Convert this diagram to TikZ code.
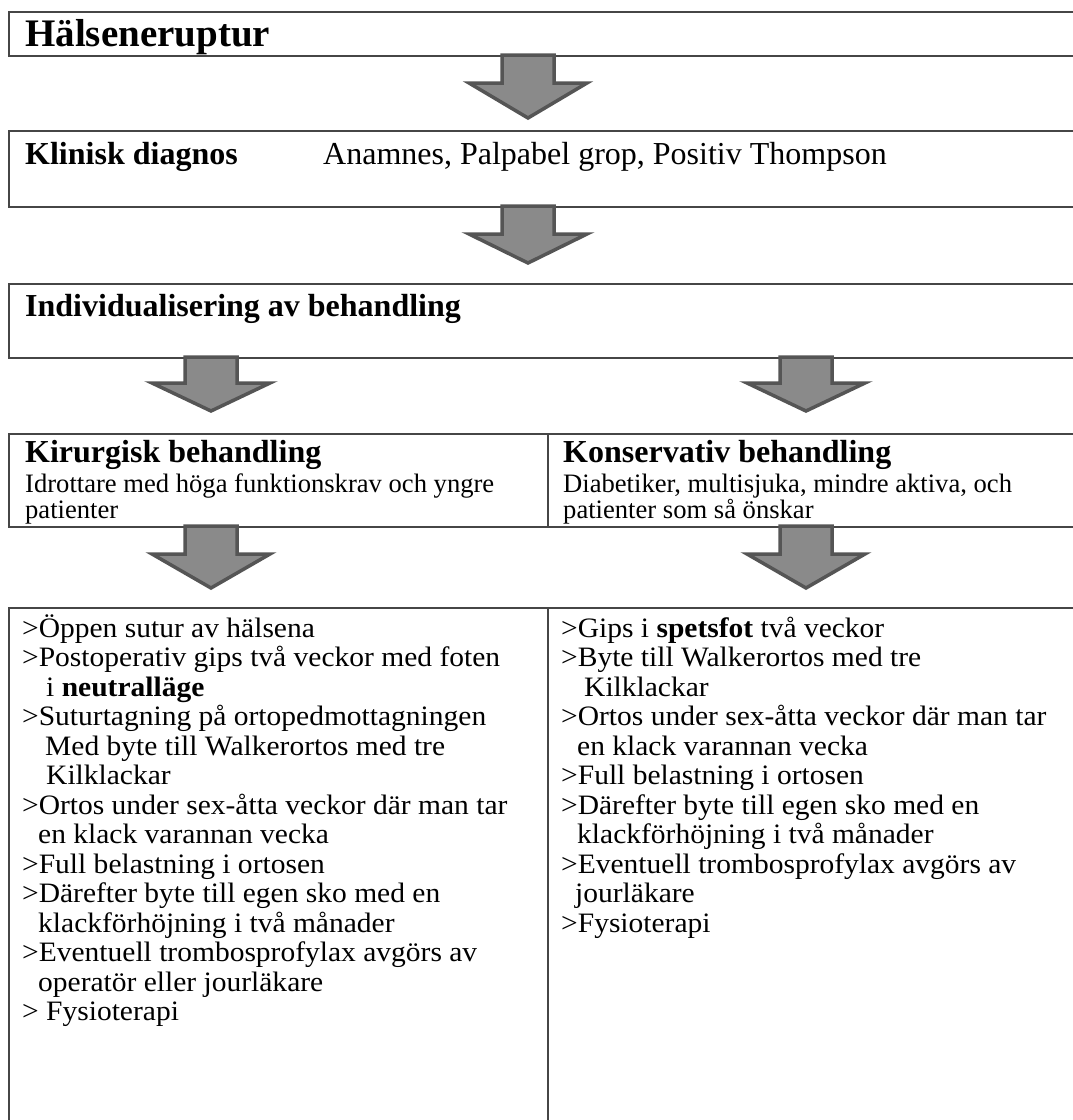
\documentclass[tikz,border=0pt]{standalone}
\usepackage{fontspec}
\setmainfont{Liberation Serif}
\newfontfamily\scanfont[FakeStretch=1.05]{Liberation Serif}
\usetikzlibrary{positioning}
\definecolor{rulegray}{RGB}{70,70,70}
\definecolor{arrowedge}{RGB}{85,85,85}
\definecolor{arrowbody}{RGB}{138,138,138}
\tikzset{
    panel/.style={rectangle, draw=rulegray, line width=1.8pt, anchor=north west, inner sep=0pt, minimum width=1100pt},
    title/.style={anchor=base west, inner sep=0pt, font=\fontsize{39}{44}\selectfont\bfseries},
    heading/.style={anchor=base west, inner sep=0pt, font=\fontsize{32}{36}\selectfont\bfseries},
    info/.style={anchor=base west, inner sep=0pt, font=\fontsize{32}{36}\selectfont},
    note/.style={anchor=base west, inner sep=0pt, font=\fontsize{26.6}{30}\selectfont},
    item/.style={anchor=base west, inner sep=0pt, font=\scanfont\fontsize{28.1}{29.5}\selectfont},
    bigarrow/.style={fill=arrowbody, draw=arrowedge, line width=3.5pt, line join=miter},
    pics/downarrow/.style n args={2}{code={
        \path[bigarrow] (-26,2) -- (26,2) -- (26,#1) -- (59,#1) -- (0,#2) -- (-59,#1) -- (-26,#1) -- cycle;
    }},
}

\begin{document}
\begin{tikzpicture}[x=1pt, y=-1pt]
    \useasboundingbox (0,0) rectangle (1073,1120);
    \clip (0,0) rectangle (1073,1120);
    \fill[white] (0,0) rectangle (1073,1120);

    % boxes
    \node[panel, minimum height=44pt] (onset) at (8,11) {};
    \node[panel, minimum height=76pt] (diag) at (8,130) {};
    \node[panel, minimum height=74pt] (indiv) at (8,283) {};
    \node[panel, minimum height=93pt] (choice) at (8,433) {};
    \node[panel, minimum height=600pt] (plan) at (8,607) {};
    \coordinate (split) at (548,0);
    \draw[rulegray, line width=1.8pt] (choice.north -| split) -- (choice.south -| split);
    \draw[rulegray, line width=1.8pt] (plan.north -| split) -- (plan.south -| split);

    % arrows
    \pic (a1) at (528,53) {downarrow={30}{65}};
    \pic (a2) at (528,204) {downarrow={30}{59}};
    \pic (a3) at (211,355) {downarrow={28}{56}};
    \pic (a4) at (806,355) {downarrow={28}{56}};
    \pic (a5) at (211,524) {downarrow={30}{64}};
    \pic (a6) at (806,524) {downarrow={30}{64}};

    % texts
    \node[title] (t1) at (25,46) {Hälseneruptur};
    \node[heading] (t2) at (25,164) {Klinisk diagnos};
    \node[info] (t2b) at (323,164) {Anamnes, Palpabel grop, Positiv Thompson};
    \node[heading] (t3) at (25,316) {Individualisering av behandling};
    \node[heading] (kir) at (25,462) {Kirurgisk behandling};
    \node[note] (kir1) at (25,492) {Idrottare med höga funktionskrav och yngre};
    \node[note] (kir2) at (25,518) {patienter};
    \node[heading] (kon) at (563,462) {Konservativ behandling};
    \node[note] (kon1) at (563,492) {Diabetiker, multisjuka, mindre aktiva, och};
    \node[note] (kon2) at (563,518) {patienter som så önskar};

    % surgical steps
    \node[item] (k1) at (22,637) {>Öppen sutur av hälsena};
    \node[item] (k2) at (22,666.5) {>Postoperativ gips två veckor med foten};
    \node[item] (k3) at (46,696) {i \textbf{neutralläge}};
    \node[item] (k4) at (22,725.5) {>Suturtagning på ortopedmottagningen};
    \node[item] (k5) at (45,755) {Med byte till Walkerortos med tre};
    \node[item] (k6) at (46,784.5) {Kilklackar};
    \node[item] (k7) at (22,814) {>Ortos under sex-åtta veckor där man tar};
    \node[item] (k8) at (38,843.5) {en klack varannan vecka};
    \node[item] (k9) at (22,873) {>Full belastning i ortosen};
    \node[item] (k10) at (22,902.5) {>Därefter byte till egen sko med en};
    \node[item] (k11) at (38,932) {klackförhöjning i två månader};
    \node[item] (k12) at (22,961.5) {>Eventuell trombosprofylax avgörs av};
    \node[item] (k13) at (38,991) {operatör eller jourläkare};
    \node[item] (k14) at (22,1020.5) {> Fysioterapi};

    % conservative steps
    \node[item] (c1) at (561,637) {>Gips i \textbf{spetsfot} två veckor};
    \node[item] (c2) at (561,666.5) {>Byte till Walkerortos med tre};
    \node[item] (c3) at (584,696) {Kilklackar};
    \node[item] (c4) at (561,725.5) {>Ortos under sex-åtta veckor där man tar};
    \node[item] (c5) at (577,755) {en klack varannan vecka};
    \node[item] (c6) at (561,784.5) {>Full belastning i ortosen};
    \node[item] (c7) at (561,814) {>Därefter byte till egen sko med en};
    \node[item] (c8) at (577,843.5) {klackförhöjning i två månader};
    \node[item] (c9) at (561,873) {>Eventuell trombosprofylax avgörs av};
    \node[item] (c10) at (575,902.5) {jourläkare};
    \node[item] (c11) at (561,932) {>Fysioterapi};
\end{tikzpicture}
\end{document}
